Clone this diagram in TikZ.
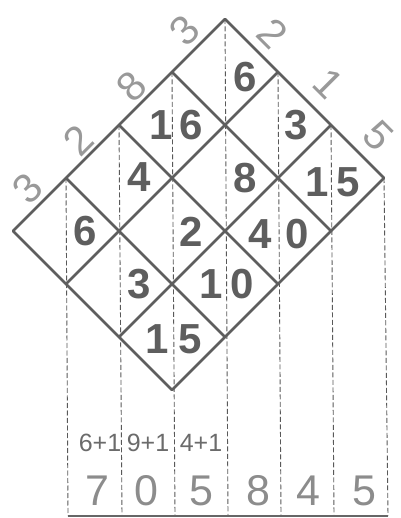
\documentclass[tikz,border=0pt]{standalone}
\usepackage{fontspec}
\setmainfont{Liberation Sans}
\begin{document}
\begin{tikzpicture}[x=1pt,y=-1pt,
  gridline/.style={draw=black!63, line width=2.8pt, line cap=round, line join=round},
  vdash/.style={draw=black!65, line width=0.9pt, dash pattern=on 5pt off 2.5pt},
  baseline/.style={draw=black!60, line width=1.4pt},
  cell/.style={font=\fontsize{42}{42}\selectfont\bfseries, text=black!63, inner sep=0pt},
  factor/.style={font=\fontsize{41}{41}\selectfont, text=black!40, inner sep=0pt},
  sumtxt/.style={font=\fontsize{25}{25}\selectfont, text=black!58, inner sep=0pt},
  result/.style={font=\fontsize{43}{43}\selectfont, text=black!45, inner sep=0pt}]
\useasboundingbox (0,0) rectangle (400,518);
% lattice points
\foreach \a in {0,...,4}{
  \foreach \b in {0,...,3}{
    \coordinate (p\a\b) at ({13+53*(\a+\b)},{231+53*(\b-\a)});
  }
}
% bottom ends of the dashed verticals
\coordinate (q1) at (68,516);
\coordinate (q2) at (122,516);
\coordinate (q3) at (175,516);
\coordinate (q4) at (228,516);
\coordinate (q5) at (281,516);
\coordinate (q6) at (334,516);
\coordinate (q7) at (388,516);
% dashed verticals
\draw[vdash] (p10) -- (q1);
\draw[vdash] (p20) -- (q2);
\draw[vdash] (p30) -- (q3);
\draw[vdash] (p40) -- (q4);
\draw[vdash] (p41) -- (q5);
\draw[vdash] (p42) -- (q6);
\draw[vdash] (p43) -- (q7);
\draw[baseline] (q1) -- (q7);
% diamond grid
\foreach \a in {0,...,4}{ \draw[gridline] (p\a0) -- (p\a3); }
\foreach \b in {0,...,3}{ \draw[gridline] (p0\b) -- (p4\b); }
% factor digits
\node[factor, rotate=45] (fa) at (28,188) {3};
\node[factor, rotate=45] (fb) at (78,140) {2};
\node[factor, rotate=45] (fc) at (132,86) {8};
\node[factor, rotate=45] (fd) at (185,30) {3};
\node[factor, rotate=-45] (ga) at (273,33) {2};
\node[factor, rotate=-45] (gb) at (329,84) {1};
\node[factor, rotate=-45] (gc) at (378,136) {5};
% partial products (tens left of the dashed line, ones right)
% i=0 (3)
\node[cell] (c00o) at (85,231) {6};
\node[cell] (c01o) at (139,284) {3};
\node[cell] (c02t) at (157,339) {1};
\node[cell] (c02o) at (190,339) {5};
% i=1 (2)
\node[cell] (c10o) at (139,177) {4};
\node[cell] (c11o) at (191,232) {2};
\node[cell] (c12t) at (211,284) {1};
\node[cell] (c12o) at (242,284) {0};
% i=2 (8)
\node[cell] (c20t) at (161,125) {1};
\node[cell] (c20o) at (191,125) {6};
\node[cell] (c21o) at (245,178) {8};
\node[cell] (c22t) at (260,234) {4};
\node[cell] (c22o) at (297,234) {0};
% i=3 (3)
\node[cell] (c30o) at (245,77) {6};
\node[cell] (c31o) at (296,125) {3};
\node[cell] (c32t) at (317,182) {1};
\node[cell] (c32o) at (348,182) {5};
% column sums
\node[sumtxt] (s1) at (100,443) {6+1};
\node[sumtxt] (s2) at (148,443) {9+1};
\node[sumtxt] (s3) at (201,443) {4+1};
% result
\node[result] (r1) at (97,491) {7};
\node[result] (r2) at (146,491) {0};
\node[result] (r3) at (201,491) {5};
\node[result] (r4) at (258,491) {8};
\node[result] (r5) at (308,491) {4};
\node[result] (r6) at (364,491) {5};
\end{tikzpicture}
\end{document}
